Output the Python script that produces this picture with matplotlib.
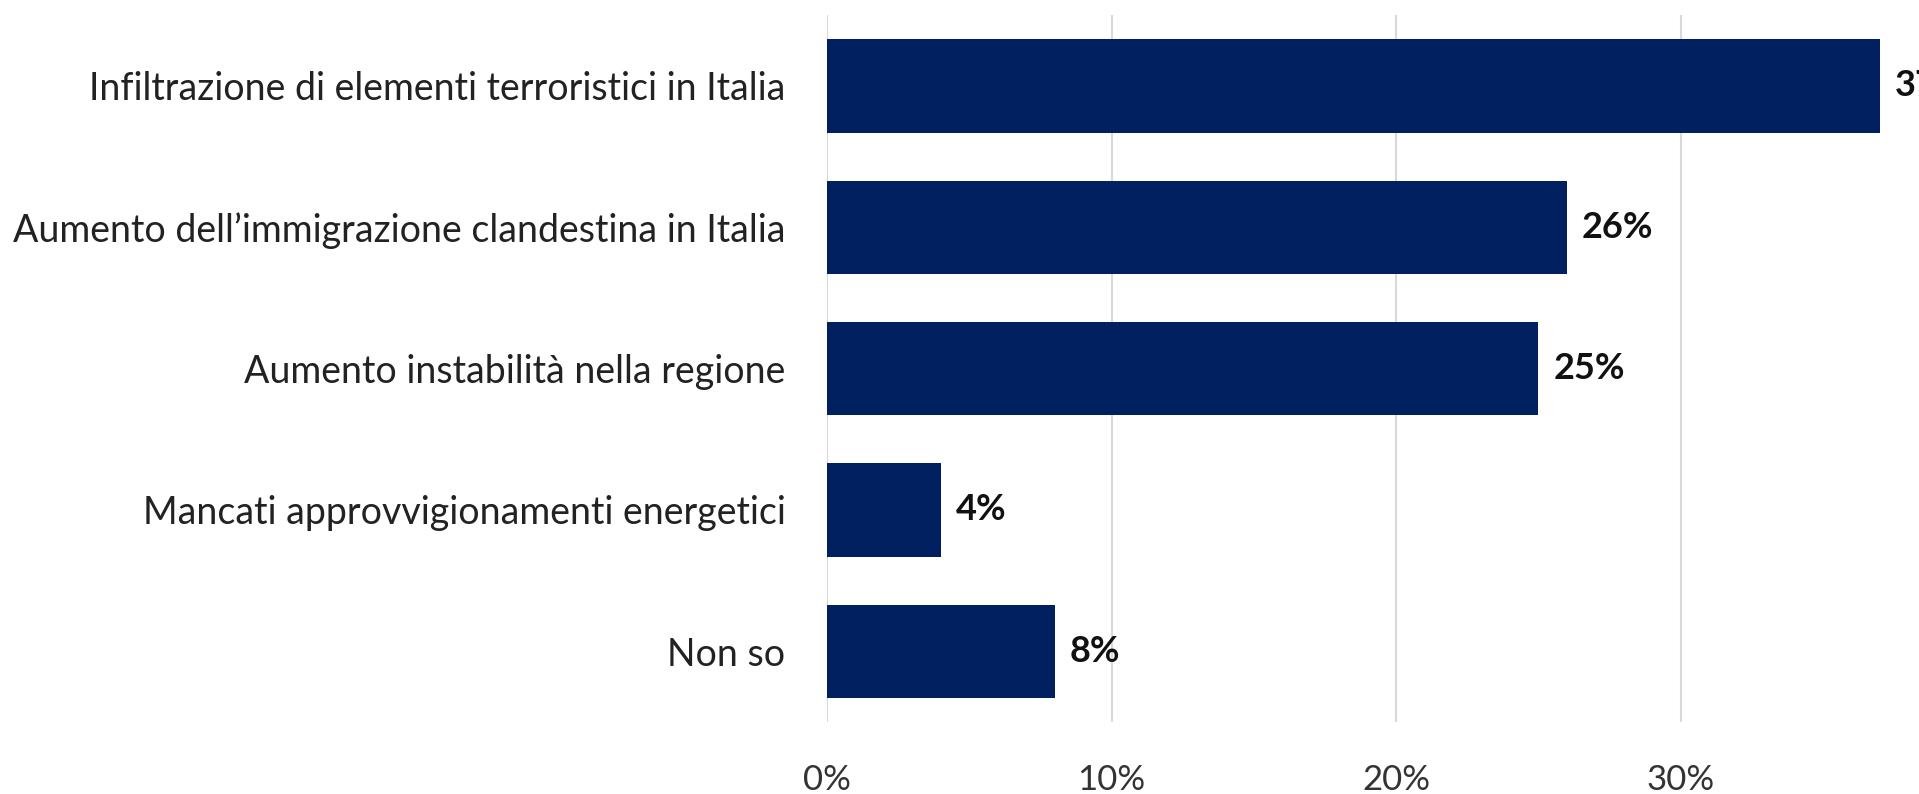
import matplotlib
matplotlib.use("Agg")
import matplotlib.pyplot as plt

# Survey answers, percentages
categories = [
    "Infiltrazione di elementi terroristici in Italia",
    "Aumento dell\u2019immigrazione clandestina in Italia",
    "Aumento instabilità nella regione",
    "Mancati approvvigionamenti energetici",
    "Non so",
]
values = [37, 26, 25, 4, 8]
xticks = [0, 10, 20, 30]

plt.rcParams["font.family"] = ["Lato", "DejaVu Sans"]

fig = plt.figure(figsize=(19.19, 7.94), dpi=100)
ax = fig.add_axes([0.431, 0.0907, 0.593, 0.890])

ypos = list(range(len(categories)))
bars = ax.barh(ypos, values, height=0.66, color="#002060", zorder=3)
ax.set_ylim(len(categories) - 0.5, -0.5)
ax.set_xlim(0, 40)

ax.set_yticks(ypos)
ax.set_yticklabels(categories, fontsize=27, color="#222222")
ax.set_xticks(xticks)
ax.set_xticklabels([f"{t}%" for t in xticks], fontsize=25, color="#333333")
ax.tick_params(axis="y", length=0, pad=30)
ax.tick_params(axis="x", length=0, pad=30)

ax.grid(axis="x", color="#d9d9d9", linewidth=1.5, zorder=0)
for s in ax.spines.values():
    s.set_visible(False)

for bar, v in zip(bars, values):
    ax.annotate(f"{v}%", (bar.get_width(), bar.get_y() + bar.get_height() / 2),
                xytext=(11, 0), textcoords="offset points", va="center",
                ha="left", fontsize=26, fontweight="bold", color="#111111",
                annotation_clip=False)

fig.savefig("out.png", dpi=100)
